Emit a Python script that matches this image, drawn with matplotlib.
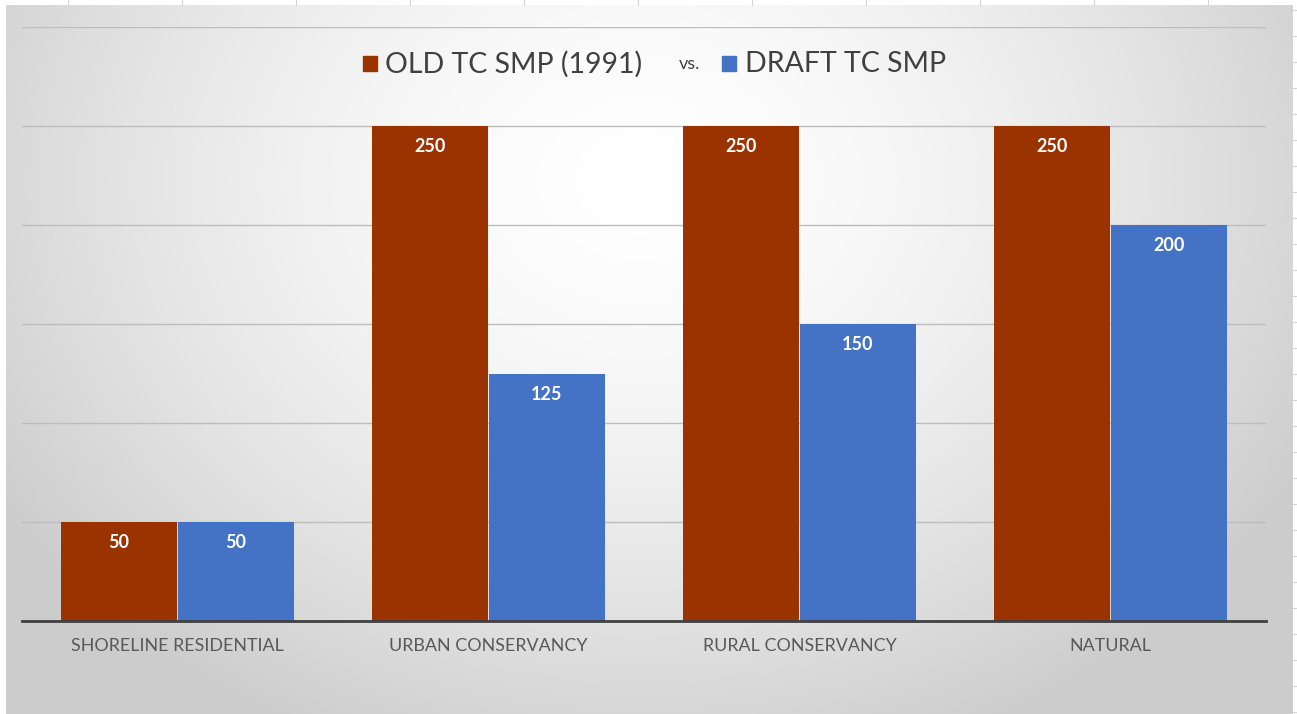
import numpy as np
import matplotlib.pyplot as plt
from matplotlib.patches import Rectangle

categories = ["SHORELINE RESIDENTIAL", "URBAN CONSERVANCY", "RURAL CONSERVANCY", "NATURAL"]
old_smp = [50, 250, 250, 250]
draft_smp = [50, 125, 150, 200]
series_names = ["OLD TC SMP (1991)", "DRAFT TC SMP"]

OLD_COLOR = "#9A3300"
NEW_COLOR = "#4472C4"
W, H = 1297, 714

plt.rcParams["font.family"] = ["Lato", "DejaVu Sans"]

fig = plt.figure(figsize=(W / 100, H / 100), dpi=100)
fig.patch.set_facecolor("white")

# background layer in pixel coordinates: sheet cells + chart area gradient
bg = fig.add_axes([0, 0, 1, 1], zorder=0)
bg.set_xlim(0, W)
bg.set_ylim(H, 0)
bg.axis("off")

x0, y0, x1, y1 = 6, 5, 1293, H
yy, xx = np.mgrid[y0:y1, x0:x1]
r = np.sqrt(((xx - 640) / 760.0) ** 2 + ((yy - 180) / 620.0) ** 2)
t = np.clip(r, 0, 1) ** 1.6
shade = 1.0 - 0.20 * t
img = np.dstack([shade, shade, shade])
bg.imshow(img, extent=(x0, x1, y1, y0), interpolation="bilinear", aspect="auto")

# spreadsheet cell lines peeking out around the chart
for x in range(68, 1290, 114):
    bg.plot([x, x], [0, y0], color="#D4D4D4", lw=0.8)
for y in range(10, H, 26):
    bg.plot([x1, W], [y, y], color="#D4D4D4", lw=0.8)

# main plot area
ax = fig.add_axes([22 / W, (H - 621) / H, 1244 / W, 594 / H], zorder=1)
ax.patch.set_alpha(0)
idx = np.arange(len(categories))
bw = 0.372
ax.bar(idx - 0.188, old_smp, bw, color=OLD_COLOR, zorder=3)
ax.bar(idx + 0.188, draft_smp, bw, color=NEW_COLOR, zorder=3)

for i in idx:
    ax.text(i - 0.188, old_smp[i] - 10.5, str(old_smp[i]), ha="center", va="center",
            color="white", fontsize=13, fontweight="bold", zorder=4)
    ax.text(i + 0.188, draft_smp[i] - 10.5, str(draft_smp[i]), ha="center", va="center",
            color="white", fontsize=13, fontweight="bold", zorder=4)

ax.set_xlim(-0.5, 3.5)
ax.set_ylim(0, 300)
ax.set_yticks(np.arange(0, 301, 50))
ax.yaxis.grid(True, color="#BDBDBD", lw=1.0, zorder=0)
ax.set_axisbelow(True)
ax.tick_params(axis="y", left=False, labelleft=False)
ax.tick_params(axis="x", bottom=False, pad=9, labelsize=12.9, labelcolor="#595959")
ax.set_xticks(idx)
ax.set_xticklabels(categories)
for side in ["top", "right", "left"]:
    ax.spines[side].set_visible(False)
ax.spines["bottom"].set_color("#404040")
ax.spines["bottom"].set_linewidth(2)
ax.spines["bottom"].set_zorder(5)

# legend row drawn by hand so the "vs." can sit between the entries
bg.add_patch(Rectangle((363, 56), 14, 15, color=OLD_COLOR, zorder=3))
bg.text(385, 64, series_names[0], fontsize=20.5, color="#404040", va="center", ha="left", zorder=3)
bg.text(679, 64, "vs.", fontsize=13, color="#404040", va="center", ha="left", zorder=3)
bg.add_patch(Rectangle((722, 56), 14, 15, color=NEW_COLOR, zorder=3))
bg.text(745, 64, series_names[1], fontsize=20.5, color="#404040", va="center", ha="left", zorder=3)

fig.savefig("out.png", dpi=100)
